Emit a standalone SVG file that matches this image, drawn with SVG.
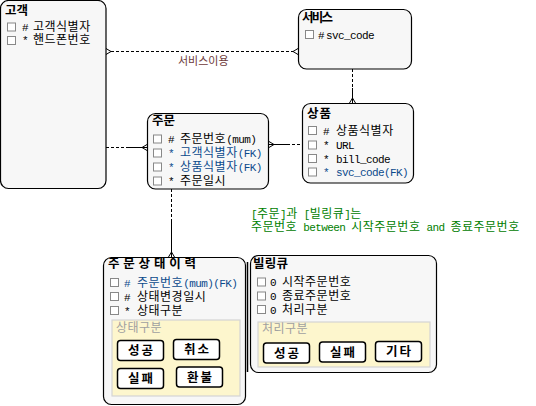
<svg xmlns="http://www.w3.org/2000/svg" width="536" height="406" viewBox="0 0 536 406">
<style>
  .box{fill:#f7f7f7;stroke:#000;stroke-width:1.2}
  .title{font-family:"Liberation Sans","Noto Sans CJK KR",sans-serif;font-size:12.5px;font-weight:bold;fill:#000}
  .t{font-family:"Liberation Mono","Noto Sans CJK KR",monospace;font-size:12px;fill:#000;letter-spacing:0.5px}
  .a{font-size:11px;letter-spacing:-0.6px}
  .fk{fill:#0b4a8c}
  .cb{fill:#fff;stroke:#888;stroke-width:1}
  .panel{fill:#fdf6cd;stroke:#d4d4d4;stroke-width:1.2}
  .plabel{font-family:"Liberation Mono","Noto Sans CJK KR",monospace;font-size:12px;fill:#a0a0a0;letter-spacing:0.5px}
  .btn{fill:#fff;stroke:#000;stroke-width:1.5}
  .btxt{font-family:"Liberation Sans","Noto Sans CJK KR",sans-serif;font-size:12.5px;font-weight:bold;fill:#000;text-anchor:middle;letter-spacing:2px}
  .ln{fill:none;stroke:#000;stroke-width:1}
  .dash{fill:none;stroke:#000;stroke-width:1;stroke-dasharray:3,2}
  .note{font-family:"Liberation Mono","Noto Sans CJK KR",monospace;font-size:12px;fill:#008000;letter-spacing:0.5px}
  .lbl{font-family:"Liberation Sans","Noto Sans CJK KR",sans-serif;font-size:11px;fill:#6e3a3a}
</style>

<g id="connectors">
  <!-- 고객 - 서비스 -->
  <line class="dash" x1="111" y1="51.5" x2="293" y2="51.5"/>
  <path class="ln" d="M106,48.5 L111,51.5 L106,54.5 M298,48.5 L293,51.5 L298,54.5"/>
  <text class="lbl" x="178" y="65">서비스이용</text>
  <!-- 서비스 - 상품 -->
  <line class="dash" x1="352.5" y1="69" x2="352.5" y2="88"/>
  <line class="ln" x1="352.5" y1="88" x2="352.5" y2="103"/>
  <path class="ln" d="M349.5,103 L352.5,98 L355.5,103"/>
  <!-- 고객 - 주문 -->
  <line class="dash" x1="106" y1="147.5" x2="126" y2="147.5"/>
  <line class="ln" x1="126" y1="147.5" x2="147" y2="147.5"/>
  <path class="ln" d="M147,144.5 L142,147.5 L147,150.5"/>
  <!-- 주문 - 상품 -->
  <line class="ln" x1="269" y1="144.5" x2="287" y2="144.5"/>
  <line class="dash" x1="287" y1="144.5" x2="302" y2="144.5"/>
  <path class="ln" d="M269,141.5 L274,144.5 L269,147.5"/>
  <!-- 주문 - 주문상태이력 -->
  <line class="dash" x1="171.5" y1="189" x2="171.5" y2="220"/>
  <line class="ln" x1="171.5" y1="220" x2="171.5" y2="257"/>
  <path class="ln" d="M168.5,257 L171.5,252 L174.5,257"/>
  <!-- vertical line -->
  <line x1="247.5" y1="262" x2="247.5" y2="372" stroke="#000" stroke-width="1.5"/>
</g>

<g id="note">
  <text class="note" x="251" y="218"><tspan class="a">[</tspan>주문<tspan class="a">]</tspan>과<tspan class="a"> [</tspan>빌링큐<tspan class="a">]</tspan>는</text>
  <text class="note" x="251" y="231">주문번호<tspan class="a"> between </tspan>시작주문번호<tspan class="a"> and </tspan>종료주문번호</text>
</g>

<g id="customer">
  <rect class="box" x="0.5" y="0.5" width="105.5" height="188" rx="8"/>
  <text class="title" x="5" y="15">고객</text>
  <rect class="cb" x="7.5" y="23" width="8" height="8"/>
  <text class="t a" x="22" y="30.5">#</text><text class="t" x="33" y="30.5">고객식별자</text>
  <rect class="cb" x="7.5" y="36.5" width="8" height="8"/>
  <text class="t a" x="22" y="44">*</text><text class="t" x="33" y="44">핸드폰번호</text>
</g>

<g id="service">
  <rect class="box" x="298.5" y="9.5" width="113" height="59.5" rx="8"/>
  <text class="title" x="302" y="22" textLength="31" lengthAdjust="spacing">서비스</text>
  <rect class="cb" x="305.5" y="30.5" width="8" height="8"/>
  <text class="t a" x="318" y="38.5">#</text><text class="t a" x="326" y="38.5">svc_code</text>
</g>

<g id="product">
  <rect class="box" x="302.5" y="103.5" width="111" height="79.5" rx="8"/>
  <text class="title" x="307" y="118" textLength="24" lengthAdjust="spacing">상품</text>
  <rect class="cb" x="308.5" y="126.5" width="8" height="8"/>
  <text class="t a" x="323" y="134.5">#</text><text class="t" x="336" y="134.5">상품식별자</text>
  <rect class="cb" x="308.5" y="141" width="8" height="8"/>
  <text class="t a" x="323" y="149">*</text><text class="t a" x="336" y="149">URL</text>
  <rect class="cb" x="308.5" y="154.5" width="8" height="8"/>
  <text class="t a" x="323" y="162.5">*</text><text class="t a" x="336" y="162.5">bill_code</text>
  <rect class="cb" x="308.5" y="168" width="8" height="8"/>
  <text class="t a fk" x="323" y="176">*</text><text class="t a fk" x="336" y="176">svc_code(FK)</text>
</g>

<g id="order">
  <rect class="box" x="147.5" y="113.5" width="121" height="75.5" rx="8"/>
  <text class="title" x="152" y="125">주문</text>
  <rect class="cb" x="153.5" y="135" width="8" height="8"/>
  <text class="t a" x="168" y="143">#</text><text class="t" x="180" y="143">주문번호<tspan class="a">(mum)</tspan></text>
  <rect class="cb" x="153.5" y="149" width="8" height="8"/>
  <text class="t a fk" x="168" y="157">*</text><text class="t fk" x="180" y="157">고객식별자<tspan class="a">(FK)</tspan></text>
  <rect class="cb" x="153.5" y="163" width="8" height="8"/>
  <text class="t a fk" x="168" y="171">*</text><text class="t fk" x="180" y="171">상품식별자<tspan class="a">(FK)</tspan></text>
  <rect class="cb" x="153.5" y="177" width="8" height="8"/>
  <text class="t a" x="168" y="185">*</text><text class="t" x="180" y="185">주문일시</text>
</g>

<g id="order-status">
  <rect class="box" x="103.5" y="257.5" width="142" height="147" rx="8"/>
  <text class="title" x="108" y="268" textLength="88" lengthAdjust="spacing">주문상태이력</text>
  <rect class="cb" x="110.5" y="278.5" width="8" height="8"/>
  <text class="t a fk" x="124" y="286.5">#</text><text class="t fk" x="137" y="286.5">주문번호<tspan class="a">(mum)(FK)</tspan></text>
  <rect class="cb" x="110.5" y="292.5" width="8" height="8"/>
  <text class="t a" x="124" y="300.5">#</text><text class="t" x="137" y="300.5">상태변경일시</text>
  <rect class="cb" x="110.5" y="306.5" width="8" height="8"/>
  <text class="t a" x="124" y="314.5">*</text><text class="t" x="137" y="314.5">상태구분</text>
  <rect class="panel" x="112" y="320" width="128" height="76"/>
  <text class="plabel" x="116" y="332">상태구분</text>
  <rect class="btn" x="117.5" y="340.5" width="46" height="20" rx="3"/>
  <text class="btxt" x="141.5" y="355">성공</text>
  <rect class="btn" x="173.5" y="339.5" width="46" height="20" rx="3"/>
  <text class="btxt" x="197.5" y="354">취소</text>
  <rect class="btn" x="117.5" y="368.5" width="46" height="20" rx="3"/>
  <text class="btxt" x="141.5" y="383">실패</text>
  <rect class="btn" x="176.5" y="367" width="46" height="20" rx="3"/>
  <text class="btxt" x="200.5" y="381.5">환불</text>
</g>

<g id="billing-queue">
  <rect class="box" x="250.5" y="255.5" width="186" height="117" rx="8"/>
  <text class="title" x="253" y="268" textLength="35" lengthAdjust="spacing">빌링큐</text>
  <rect class="cb" x="257.5" y="278" width="8" height="8"/>
  <text class="t a" x="270" y="286">0</text><text class="t" x="282" y="286">시작주문번호</text>
  <rect class="cb" x="257.5" y="292" width="8" height="8"/>
  <text class="t a" x="270" y="300">0</text><text class="t" x="282" y="300">종료주문번호</text>
  <rect class="cb" x="257.5" y="305.5" width="8" height="8"/>
  <text class="t a" x="270" y="313.5">0</text><text class="t" x="282" y="313.5">처리구분</text>
  <rect class="panel" x="258" y="322" width="172" height="45"/>
  <text class="plabel" x="262" y="333">처리구분</text>
  <rect class="btn" x="263.5" y="343" width="46" height="20" rx="3"/>
  <text class="btxt" x="287.5" y="357.5">성공</text>
  <rect class="btn" x="319.5" y="342" width="46" height="20" rx="3"/>
  <text class="btxt" x="343.5" y="356.5">실패</text>
  <rect class="btn" x="375.5" y="341.5" width="46" height="20" rx="3"/>
  <text class="btxt" x="399.5" y="356">기타</text>
</g>
</svg>
